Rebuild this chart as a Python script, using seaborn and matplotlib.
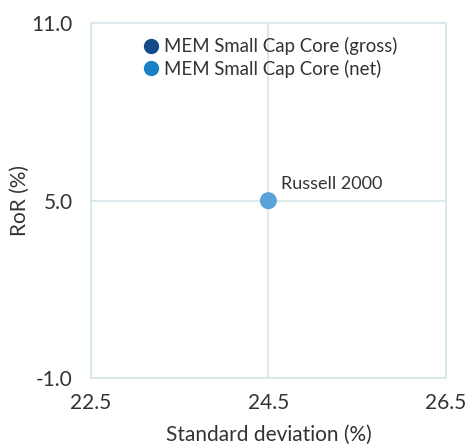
import matplotlib
matplotlib.use("Agg")
import matplotlib.pyplot as plt
import seaborn as sns
from matplotlib.lines import Line2D

# data
series_names = ["MEM Small Cap Core (gross)", "MEM Small Cap Core (net)"]
series_colors = ["#144a8a", "#1a80c6"]
bench_name = ["Russell 2000"]
bench_std = [24.5]
bench_ror = [5.0]
x_ticks = [22.5, 24.5, 26.5]
y_ticks = [-1.0, 5.0, 11.0]

sns.set_theme(style="white")
plt.rcParams["font.family"] = ["Lato", "DejaVu Sans"]
text_color = "#333333"
grid_color = "#dbe8ec"

fig = plt.figure(figsize=(4.68, 4.46), dpi=100)
ax = fig.add_axes([0.194, 0.152, 0.759, 0.796])

sns.scatterplot(x=bench_std, y=bench_ror, color="#5aa3d8", s=150, edgecolor="none", ax=ax, zorder=3)
for name, xv, yv in zip(bench_name, bench_std, bench_ror):
    ax.annotate(name, (xv, yv), xytext=(9, 8.5), textcoords="offset points",
                fontsize=13, color=text_color)

ax.set_xlim(x_ticks[0], x_ticks[-1])
ax.set_ylim(y_ticks[0], y_ticks[-1])
ax.set_xticks(x_ticks)
ax.set_yticks(y_ticks)
ax.set_xticklabels([f"{v:.1f}" for v in x_ticks])
ax.set_yticklabels([f"{v:.1f}" for v in y_ticks])
ax.grid(True, color=grid_color, linewidth=1.5)
for s in ax.spines.values():
    s.set_color(grid_color)
    s.set_linewidth(1.5)
ax.tick_params(length=0, labelsize=15, colors=text_color)
ax.tick_params(axis="x", pad=11)
ax.tick_params(axis="y", pad=13)
ax.set_xlabel("Standard deviation (%)", fontsize=15, color=text_color, labelpad=8)
ax.set_ylabel("RoR (%)", fontsize=15, color=text_color, labelpad=1)

handles = [Line2D([], [], marker="o", linestyle="", markersize=11, color=c, markeredgewidth=0)
           for c in series_colors]
ax.legend(handles, series_names, loc="upper left", bbox_to_anchor=(0.1, 1.003), frameon=False,
          fontsize=13.4, handletextpad=0.25, labelspacing=0.25, labelcolor=text_color,
          borderaxespad=0.4, handlelength=1.0)

fig.savefig("out.png", dpi=100)
